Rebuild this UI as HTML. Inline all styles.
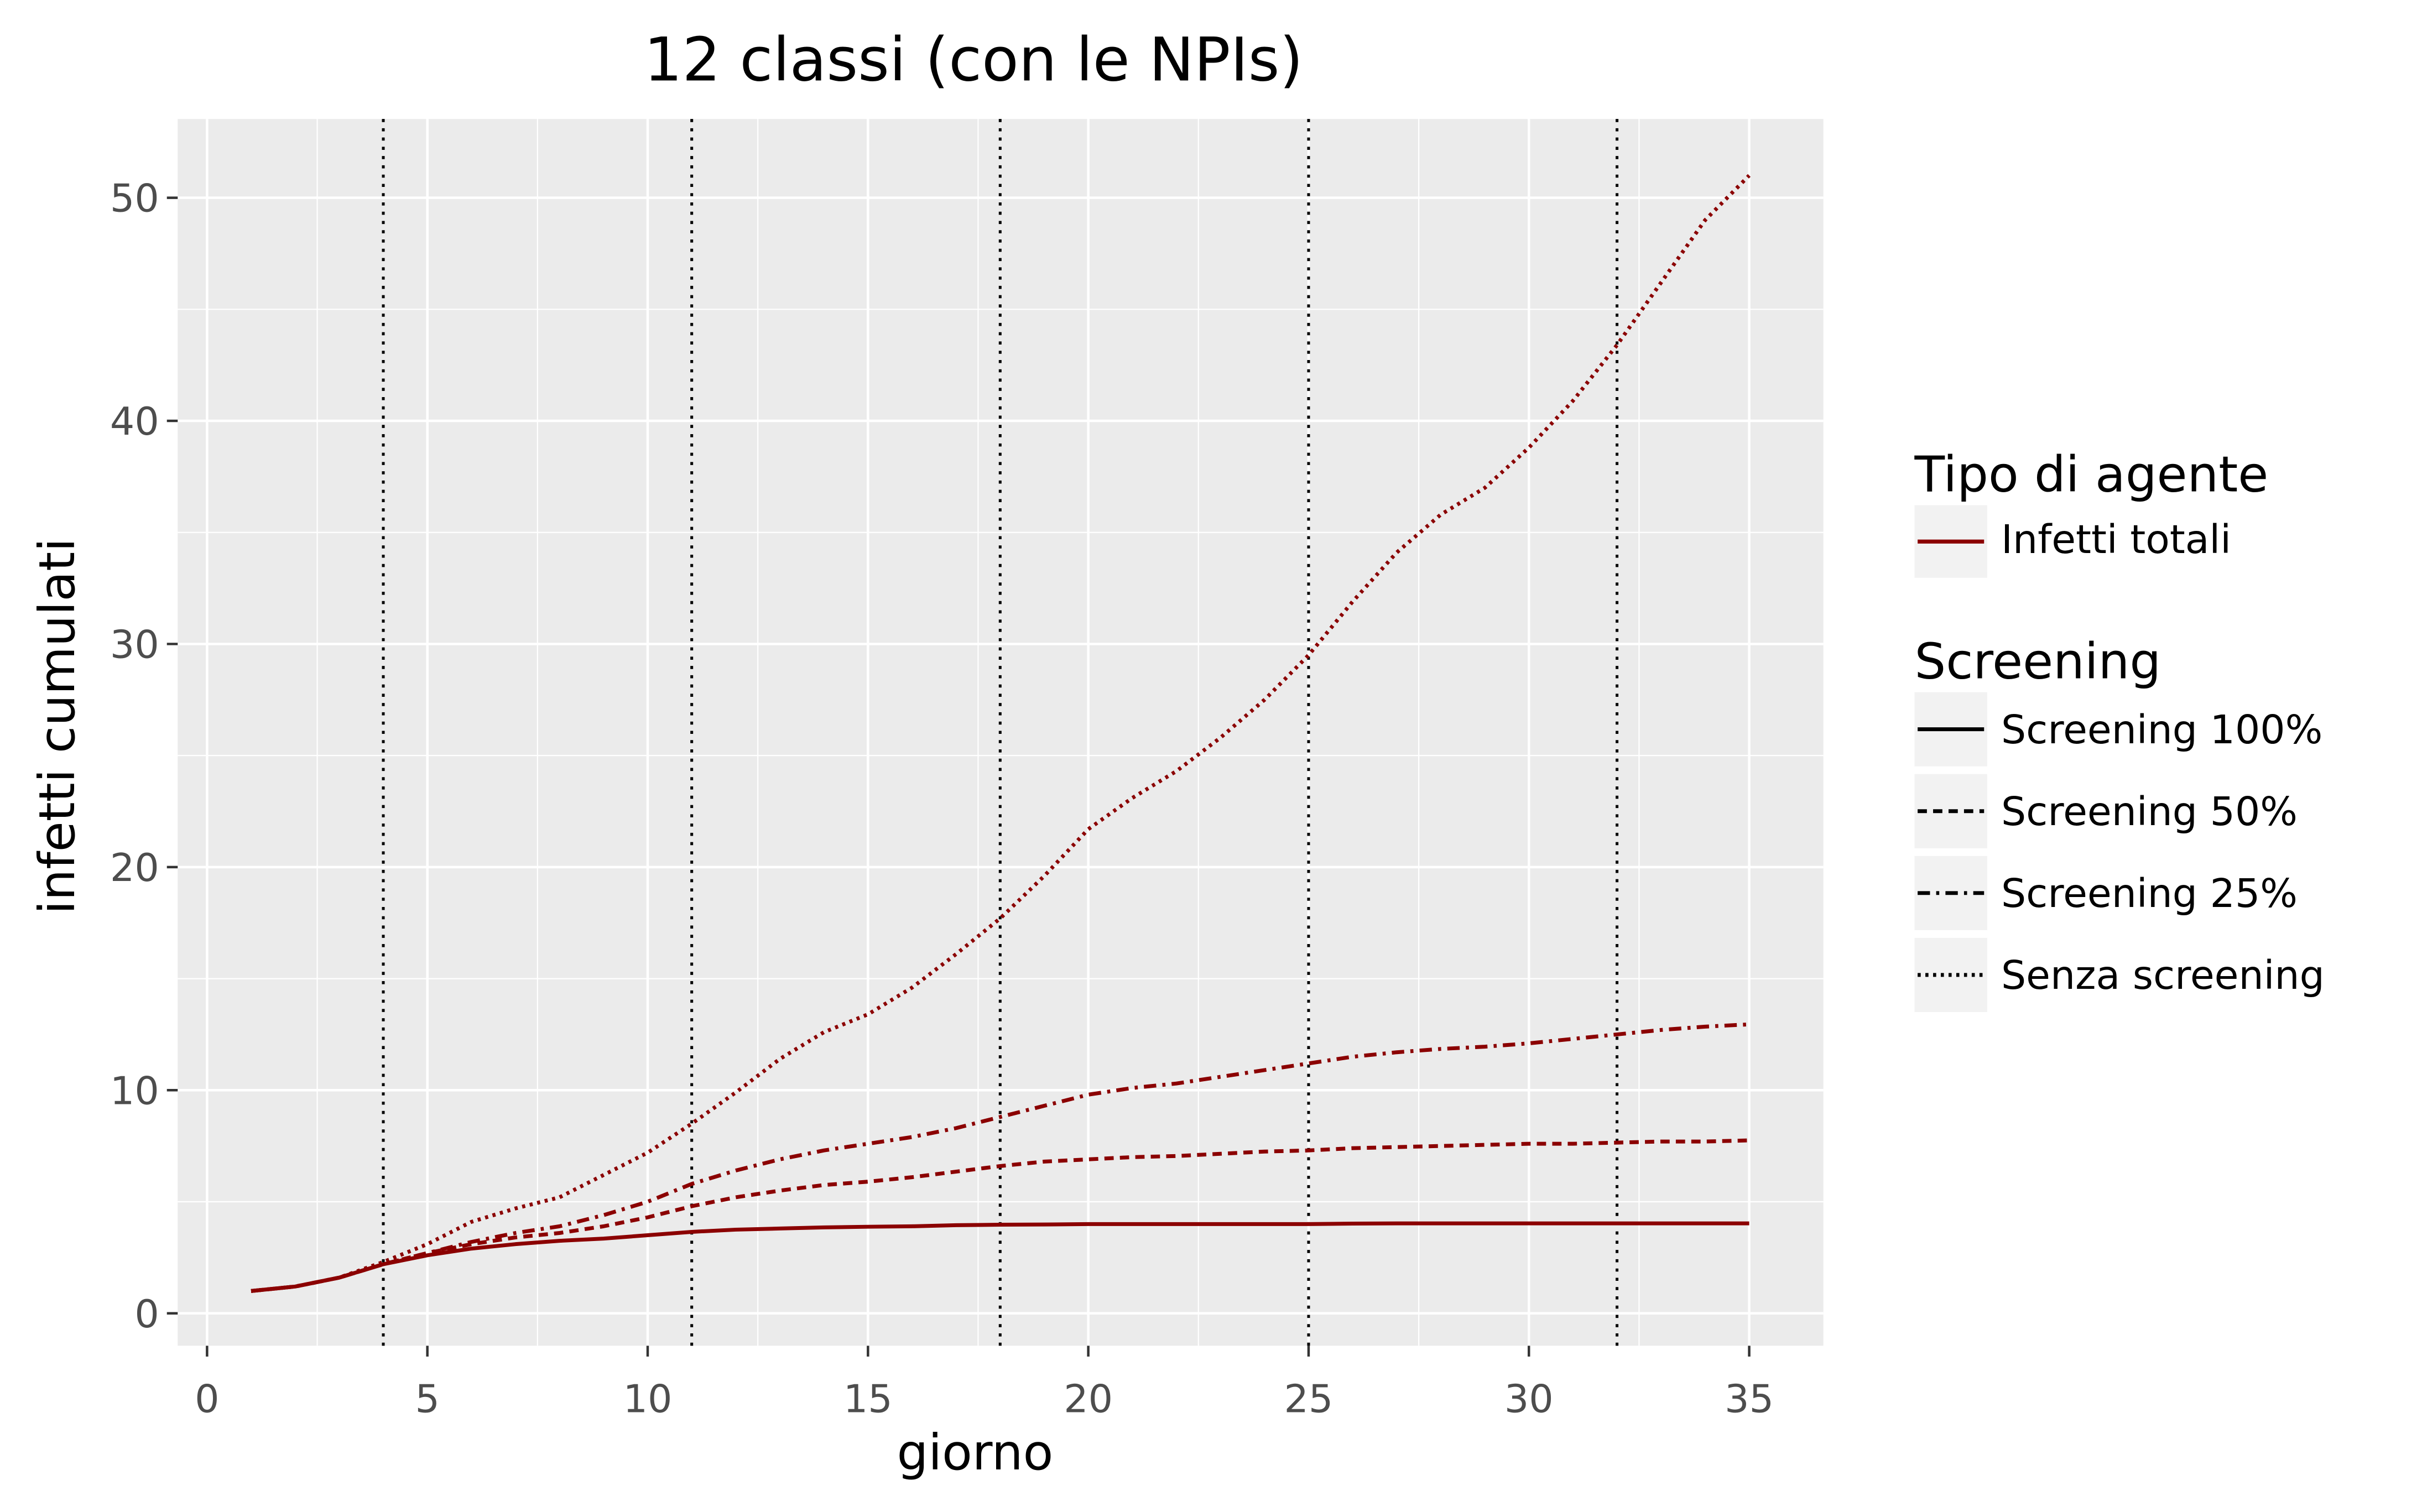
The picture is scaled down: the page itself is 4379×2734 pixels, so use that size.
<!DOCTYPE html>
<html><head><meta charset="utf-8"><style>html,body{margin:0;padding:0;background:#fff}svg{display:block}text{font-family:"DejaVu Sans","Liberation Sans",sans-serif}</style></head>
<body>
<svg id="chart" xmlns="http://www.w3.org/2000/svg" width="4379" height="2734" viewBox="0 0 1567.4 978.6" preserveAspectRatio="none">
<rect width="1567.4" height="978.6" fill="#fff"/>
<rect x="115" y="77" width="1065" height="794" fill="#ebebeb"/>
<g id="grid"></g><g id="vlines"></g><g id="series"></g><g id="axes"></g>
<text x="630" y="52" font-size="39" text-anchor="middle" fill="#000">12 classi (con le NPIs)</text>
<text x="631" y="951" font-size="32" text-anchor="middle" fill="#000">giorno</text>
<text transform="translate(48,470) rotate(-90)" font-size="32" text-anchor="middle" fill="#000">infetti cumulati</text>
<g>
<text x="1239" y="318" font-size="32">Tipo di agente</text>
<rect x="1239" y="327" width="47" height="47" fill="#f2f2f2"/>
<line x1="1241" y1="350.5" x2="1284" y2="350.5" stroke="#8b0000" stroke-width="2.6"/>
<text x="1295" y="358" font-size="25.5">Infetti totali</text>
<text x="1239" y="439" font-size="32">Screening</text>
<g id="leg2"></g>
</g>
</svg>
<script>
const days = Array.from({length:35},(_,i)=>i+1);
const s100 = [1,1.2,1.6,2.2,2.6,2.9,3.1,3.25,3.35,3.5,3.65,3.75,3.8,3.85,3.88,3.9,3.95,3.97,3.98,4,4,4,4,4,4,4.02,4.03,4.03,4.03,4.03,4.03,4.03,4.03,4.03,4.03];
const s50 = [1,1.2,1.6,2.2,2.7,3.1,3.4,3.6,3.9,4.3,4.8,5.2,5.5,5.75,5.9,6.1,6.35,6.6,6.8,6.9,7,7.05,7.15,7.25,7.3,7.4,7.45,7.5,7.55,7.6,7.6,7.65,7.7,7.7,7.75];
const s25 = [1,1.2,1.6,2.2,2.7,3.2,3.6,3.9,4.4,5,5.8,6.4,6.9,7.3,7.6,7.9,8.3,8.8,9.3,9.8,10.1,10.3,10.6,10.9,11.2,11.5,11.7,11.85,11.95,12.1,12.3,12.5,12.7,12.85,12.95];
const s0 = [1,1.2,1.6,2.3,3.1,4.1,4.7,5.2,6.2,7.2,8.5,9.9,11.4,12.6,13.4,14.6,16.1,17.7,19.6,21.7,23.1,24.3,25.8,27.5,29.5,31.9,34.1,35.8,37,38.8,40.9,43.4,46.2,49,51];
const xTicks = [0,5,10,15,20,25,30,35];
const yTicks = [0,10,20,30,40,50];
const npiDays = [4,11,18,25,32];
const seriesNames = ["Screening 100%","Screening 50%","Screening 25%","Senza screening"];

const NS="http://www.w3.org/2000/svg";
const X = v => 134 + v*(1132-134)/35;
const Y = v => 850 - v*(850-128)/50;
const PX0=115,PX1=1180,PY0=77,PY1=871;
function mk(tag, attrs, parent){const e=document.createElementNS(NS,tag);for(const k in attrs)e.setAttribute(k,attrs[k]);parent.appendChild(e);return e;}
const grid=document.getElementById('grid'), axes=document.getElementById('axes');
for(let i=0;i<xTicks.length;i++){
  const v=xTicks[i];
  if(i>0) mk('line',{x1:X(v-2.5),x2:X(v-2.5),y1:PY0,y2:PY1,stroke:'#fff','stroke-width':0.8},grid);
  mk('line',{x1:X(v),x2:X(v),y1:PY0,y2:PY1,stroke:'#fff','stroke-width':1.6},grid);
  mk('line',{x1:X(v),x2:X(v),y1:PY1,y2:PY1+7,stroke:'#333','stroke-width':1.6},axes);
  const t=mk('text',{x:X(v),y:PY1+43,'font-size':25,'text-anchor':'middle',fill:'#4d4d4d'},axes);
  
  
  t.textContent=v;
}
for(let i=0;i<yTicks.length;i++){
  const v=yTicks[i];
  if(i>0) mk('line',{x1:PX0,x2:PX1,y1:Y(v-5),y2:Y(v-5),stroke:'#fff','stroke-width':0.8},grid);
  mk('line',{x1:PX0,x2:PX1,y1:Y(v),y2:Y(v),stroke:'#fff','stroke-width':1.6},grid);
  mk('line',{x1:PX0-7,x2:PX0,y1:Y(v),y2:Y(v),stroke:'#333','stroke-width':1.6},axes);
  const t=mk('text',{x:PX0-12,y:Y(v)+9,'font-size':25,'text-anchor':'end',fill:'#4d4d4d'},axes);
  
  
  t.textContent=v;
}
const vl=document.getElementById('vlines');
npiDays.forEach(d=>{
  const l=mk('line',{x1:X(d),x2:X(d),y1:PY0,y2:PY1,stroke:'#000','stroke-width':1.8,'stroke-dasharray':'2 4'},vl);
  
  
});
const dashes=['','6 4','8 4 2 4','2 3'];
const data=[s100,s50,s25,s0];
const sg=document.getElementById('series');
data.forEach((arr,k)=>{
  const d=arr.map((v,i)=>(i?'L':'M')+X(days[i]).toFixed(2)+','+Y(v).toFixed(2)).join(' ');
  const p=mk('path',{d:d,fill:'none',stroke:'#8b0000','stroke-width':2.5,'stroke-dasharray':dashes[k],'stroke-linejoin':'round'},sg);
  
  
});
const leg=document.getElementById('leg2');
seriesNames.forEach((n,k)=>{
  const cy=472+k*53;
  mk('rect',{x:1239,y:cy-24,width:47,height:48,fill:'#f2f2f2'},leg);
  mk('line',{x1:1241,x2:1284,y1:cy,y2:cy,stroke:'#000','stroke-width':2.5,'stroke-dasharray':dashes[k]},leg);
  const t=mk('text',{x:1295,y:cy+9,'font-size':25.5,fill:'#000'},leg);
  
  
  t.textContent=n;
});
</script>
</body></html>
